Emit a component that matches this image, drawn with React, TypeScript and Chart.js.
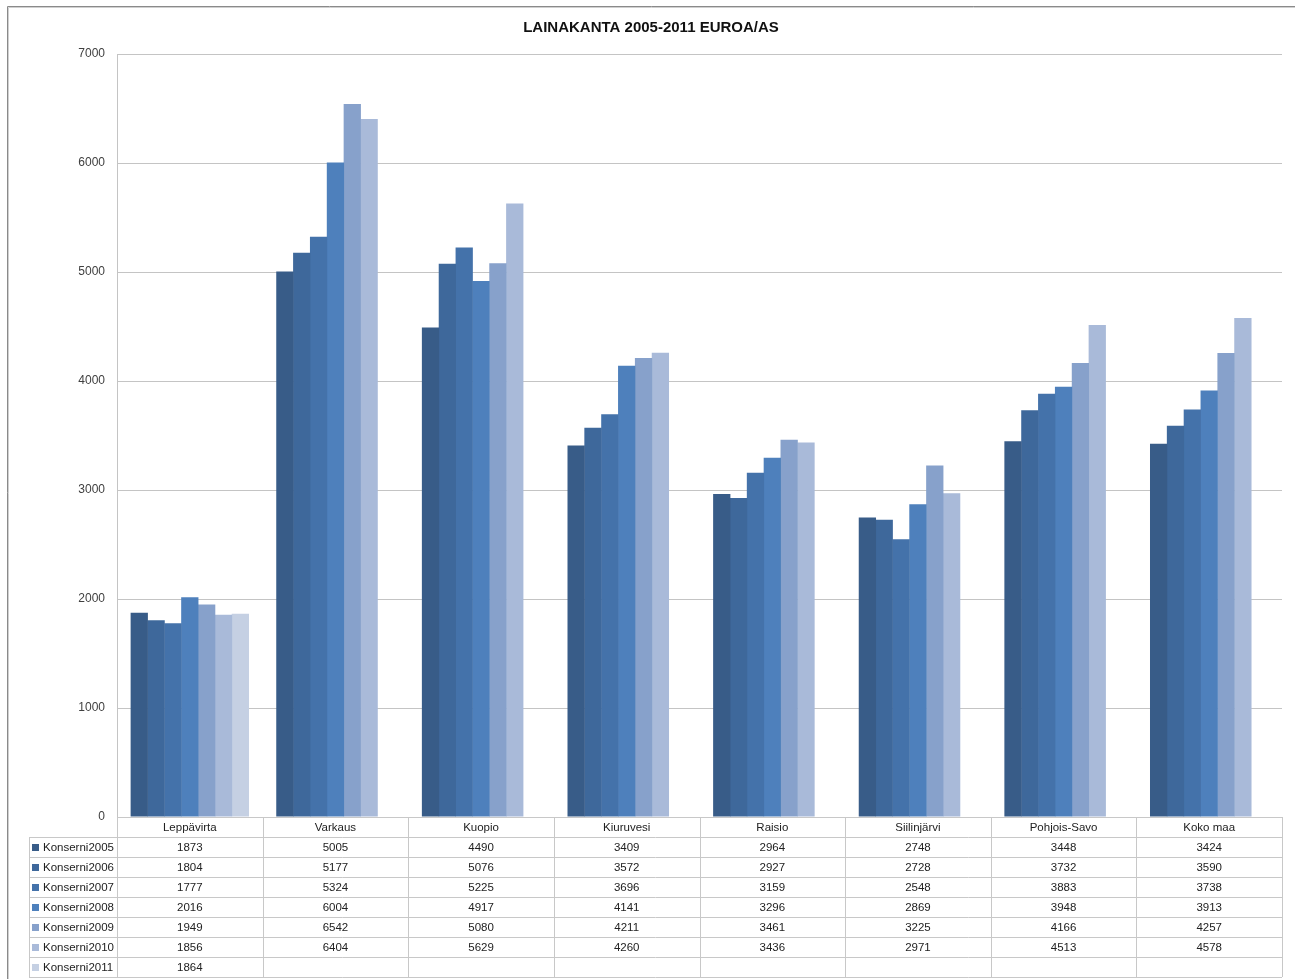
import React, { useEffect, useRef } from "react";
import { Chart, registerables } from "chart.js";

Chart.register(...registerables);

const categories = ["Leppävirta", "Varkaus", "Kuopio", "Kiuruvesi", "Raisio", "Siilinjärvi", "Pohjois-Savo", "Koko maa"];
const seriesNames = ["Konserni2005", "Konserni2006", "Konserni2007", "Konserni2008", "Konserni2009", "Konserni2010", "Konserni2011"];
const k2005 = [1873, 5005, 4490, 3409, 2964, 2748, 3448, 3424];
const k2006 = [1804, 5177, 5076, 3572, 2927, 2728, 3732, 3590];
const k2007 = [1777, 5324, 5225, 3696, 3159, 2548, 3883, 3738];
const k2008 = [2016, 6004, 4917, 4141, 3296, 2869, 3948, 3913];
const k2009 = [1949, 6542, 5080, 4211, 3461, 3225, 4166, 4257];
const k2010 = [1856, 6404, 5629, 4260, 3436, 2971, 4513, 4578];
const k2011 = [1864, null, null, null, null, null, null, null];
const seriesValues = [k2005, k2006, k2007, k2008, k2009, k2010, k2011];
const seriesColors = ["#385c88", "#3e689b", "#4472aa", "#4e80bc", "#87a1cb", "#a9bad9", "#c5d0e3"];
const titleText = "LAINAKANTA 2005-2011 EUROA/AS";

const W = 1295;
const H = 979;

const framePlugin = {
  id: "frameAndTable",
  afterDraw(chart: any) {
    const ctx = chart.ctx as CanvasRenderingContext2D;
    const area = chart.chartArea;
    const xs = chart.scales.x;
    ctx.save();
    // frame
    ctx.strokeStyle = "#8a8a8a";
    ctx.lineWidth = 1;
    ctx.beginPath();
    ctx.moveTo(7.5, H);
    ctx.lineTo(7.5, 6.5);
    ctx.lineTo(W, 6.5);
    ctx.stroke();
    ctx.strokeStyle = "#d0d0d0";
    ctx.beginPath();
    ctx.moveTo(8.5, H);
    ctx.lineTo(8.5, 7.5);
    ctx.lineTo(W, 7.5);
    ctx.stroke();

    // title
    ctx.fillStyle = "#111";
    ctx.font = "bold 15px 'Liberation Sans', Arial, sans-serif";
    ctx.textAlign = "center";
    ctx.textBaseline = "middle";
    ctx.fillText(titleText, 651, 28);

    // table
    const n = categories.length;
    const cw = (area.right - area.left) / n;
    const rowH = 20;
    const top = area.bottom;
    const rows = seriesNames.length;
    const legendLeft = 29;
    const tableBottom = top + rowH * (rows + 1);
    ctx.strokeStyle = "#c8c8c8";
    ctx.lineWidth = 1;
    ctx.beginPath();
    ctx.moveTo(area.left, Math.round(top) + 0.5);
    ctx.lineTo(area.right, Math.round(top) + 0.5);
    for (let r = 1; r <= rows + 1; r++) {
      const y = Math.round(top + r * rowH) + 0.5;
      ctx.moveTo(legendLeft, y);
      ctx.lineTo(area.right, y);
    }
    for (let i = 0; i <= n; i++) {
      const cx = i < n ? xs.getPixelForValue(i) - cw / 2 : xs.getPixelForValue(n - 1) + cw / 2;
      const x = Math.round(cx) + 0.5;
      ctx.moveTo(x, top);
      ctx.lineTo(x, tableBottom);
    }
    ctx.moveTo(legendLeft + 0.5, top + rowH);
    ctx.lineTo(legendLeft + 0.5, tableBottom);
    ctx.stroke();

    ctx.font = "11.5px 'Liberation Sans', Arial, sans-serif";
    ctx.fillStyle = "#222";
    ctx.textBaseline = "middle";
    ctx.textAlign = "center";
    for (let i = 0; i < n; i++) {
      const cx = xs.getPixelForValue(i);
      ctx.fillText(categories[i], cx, top + rowH / 2 + 1);
      for (let r = 0; r < rows; r++) {
        const v = seriesValues[r][i];
        if (v !== null && v !== undefined) {
          ctx.fillText(String(v), cx, top + rowH * (r + 1) + rowH / 2 + 1);
        }
      }
    }
    ctx.textAlign = "left";
    for (let r = 0; r < rows; r++) {
      const yc = top + rowH * (r + 1) + rowH / 2;
      ctx.fillStyle = seriesColors[r];
      ctx.fillRect(32, Math.round(yc) - 3, 7, 7);
      ctx.fillStyle = "#222";
      ctx.fillText(seriesNames[r], 43, yc + 1);
    }
    ctx.restore();
  },
};

export default function App() {
  const ref = useRef<HTMLCanvasElement | null>(null);
  useEffect(() => {
    document.body.style.margin = "0";
    const canvas = ref.current;
    if (!canvas) return;
    const chart = new Chart(canvas, {
      type: "bar",
      data: {
        labels: categories,
        datasets: seriesNames.map((name, i) => ({
          label: name,
          data: seriesValues[i],
          backgroundColor: seriesColors[i],
          borderWidth: 0,
          categoryPercentage: 0.81,
          barPercentage: 1.025,
        })),
      },
      options: {
        responsive: false,
        animation: false,
        devicePixelRatio: 1,
        layout: { padding: { left: 0, right: 13, top: 54, bottom: 162 } },
        plugins: {
          legend: { display: false },
          title: { display: false },
          tooltip: { enabled: false },
        },
        scales: {
          x: {
            display: false,
          },
          y: {
            min: 0,
            max: 7000,
            afterFit: (s: any) => {
              s.width = 117;
            },
            ticks: {
              stepSize: 1000,
              padding: 12,
              color: "#404040",
              font: { family: "'Liberation Sans', Arial, sans-serif", size: 12 },
              callback: (v: any) => String(v),
            },
            grid: { color: "#c4c4c4", drawTicks: false, lineWidth: 1 },
            border: { display: true, color: "#c4c4c4" },
          },
        },
      },
      plugins: [framePlugin],
    });
    return () => chart.destroy();
  }, []);
  return (
    <div style={{ width: W, height: H, position: "relative", overflow: "hidden", background: "#fff" }}>
      <canvas ref={ref} width={W} height={H} style={{ display: "block", width: W, height: H }} />
    </div>
  );
}
